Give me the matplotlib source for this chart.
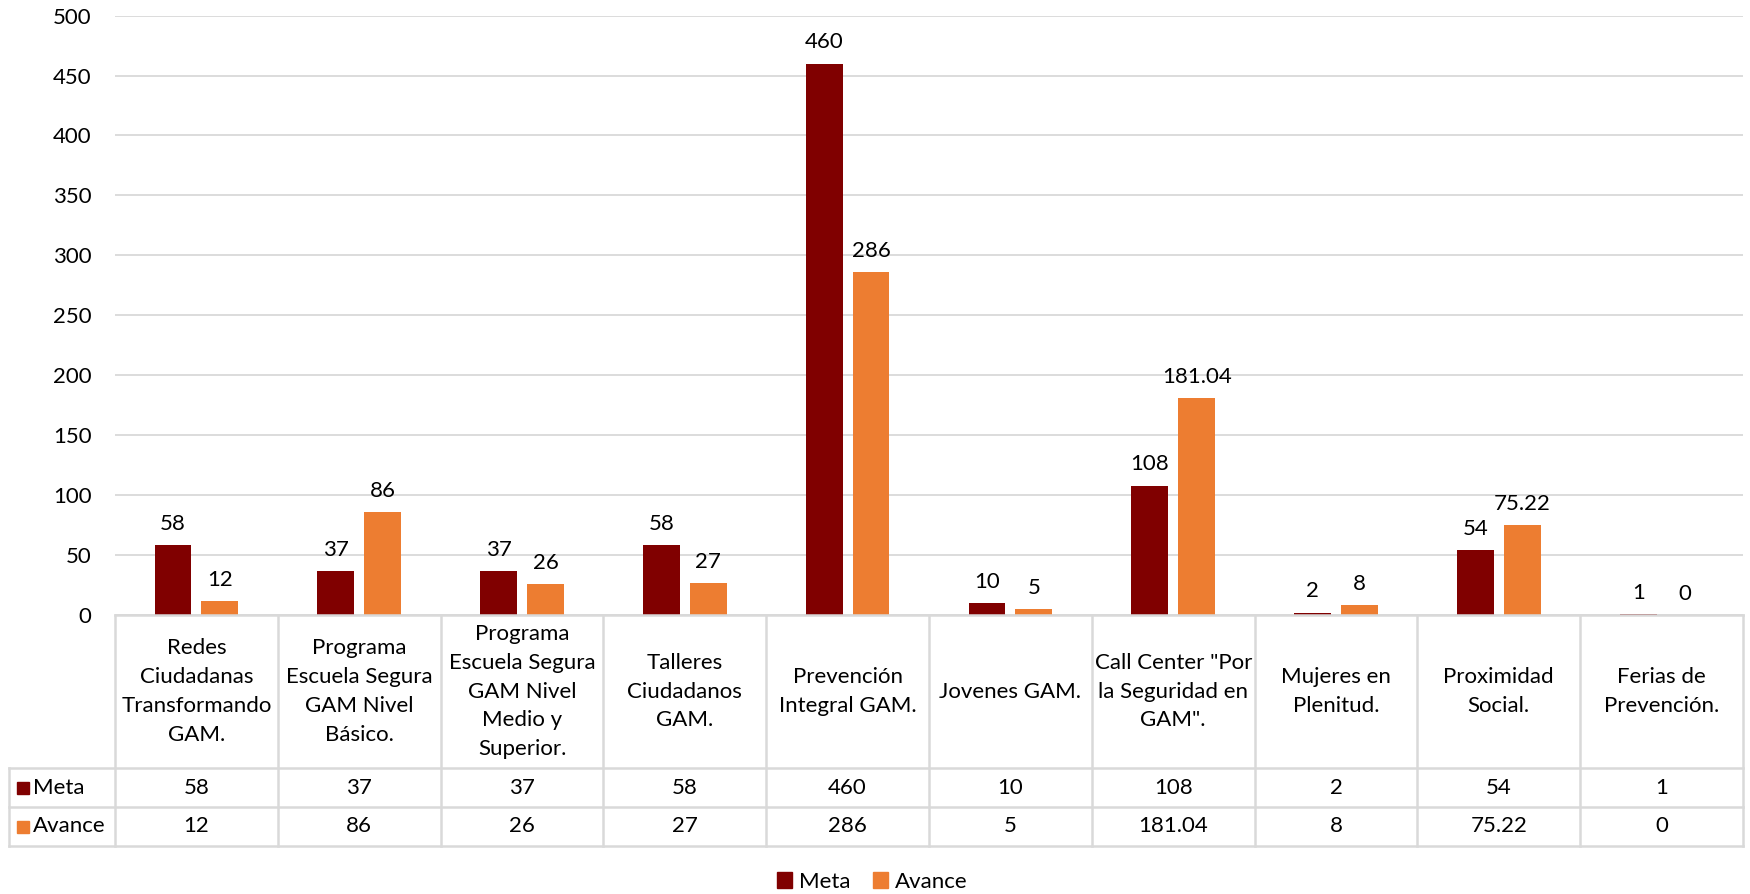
import numpy as np
import matplotlib.pyplot as plt
from matplotlib.patches import Patch
from matplotlib.lines import Line2D

plt.rcParams['font.family'] = ['Lato', 'DejaVu Sans']

categorias = ['Redes\nCiudadanas\nTransformando\nGAM.',
              'Programa\nEscuela Segura\nGAM Nivel\nBásico.',
              'Programa\nEscuela Segura\nGAM Nivel\nMedio y\nSuperior.',
              'Talleres\nCiudadanos\nGAM.',
              'Prevención\nIntegral GAM.',
              'Jovenes GAM.',
              'Call Center "Por\nla Seguridad en\nGAM".',
              'Mujeres en\nPlenitud.',
              'Proximidad\nSocial.',
              'Ferias de\nPrevención.']
meta = [58, 37, 37, 58, 460, 10, 108, 2, 54, 1]
avance = [12, 86, 26, 27, 286, 5, 181.04, 8, 75.22, 0]
series = ['Meta', 'Avance']
colores = ['#800000', '#ED7D31']

W, H = 1750, 894
fs = 16
fig = plt.figure(figsize=(W / 100, H / 100), dpi=100)

# pixel helpers (figure coords)
def fx(px): return px / W
def fy(py): return 1 - py / H

x0, x1 = 115, 1743      # plot / table columns
ytop, ybase = 15.6, 615
ax = fig.add_axes([fx(x0), fy(ybase), fx(x1) - fx(x0), fy(ytop) - fy(ybase)])

x = np.arange(len(categorias))
bw = 0.226
off = 0.144
b1 = ax.bar(x - off, meta, bw, color=colores[0], zorder=3)
b2 = ax.bar(x + off, avance, bw, color=colores[1], zorder=3)

for barras, vals in [(b1, meta), (b2, avance)]:
    for b, v in zip(barras, vals):
        ax.annotate(f'{v:g}', (b.get_x() + b.get_width() / 2, b.get_height()),
                    xytext=(0, 8), textcoords='offset points', ha='center', va='bottom',
                    fontsize=fs, color='#000000')

ax.set_xlim(-0.5, len(categorias) - 0.5)
ax.set_ylim(0, 500)
ax.set_yticks(np.arange(0, 501, 50))
ax.set_xticks([])
ax.tick_params(axis='y', length=0, labelsize=fs, pad=17)
ax.grid(axis='y', color='#D9D9D9', lw=1.3, zorder=0)
for s in ax.spines.values():
    s.set_visible(False)

# data table under the chart
gris = '#D9D9D9'
lw = 1.8
xl = 9
y_row1, y_row2, y_bot = 768, 807, 846

def hline(y, xa, xb):
    fig.add_artist(Line2D([fx(xa), fx(xb)], [fy(y), fy(y)], color=gris, lw=lw))

def vline(x_, ya, yb):
    fig.add_artist(Line2D([fx(x_), fx(x_)], [fy(ya), fy(yb)], color=gris, lw=lw))

hline(ybase, x0, x1)
hline(y_row1, xl, x1)
hline(y_row2, xl, x1)
hline(y_bot, xl, x1)
colw = (x1 - x0) / len(categorias)
for i in range(len(categorias) + 1):
    vline(x0 + i * colw, ybase, y_bot)
vline(xl, y_row1, y_bot)

for i, cat in enumerate(categorias):
    cx = fx(x0 + (i + 0.5) * colw)
    fig.text(cx, fy((ybase + y_row1) / 2), cat, ha='center', va='center',
             fontsize=fs, linespacing=1.55)
    fig.text(cx, fy((y_row1 + y_row2) / 2), f'{meta[i]:g}', ha='center', va='center', fontsize=fs)
    fig.text(cx, fy((y_row2 + y_bot) / 2), f'{avance[i]:g}', ha='center', va='center', fontsize=fs)

for (ya, yb), nombre, c in zip([(y_row1, y_row2), (y_row2, y_bot)], series, colores):
    ym = (ya + yb) / 2
    fig.add_artist(plt.Rectangle((fx(17), fy(ym + 6)), fx(12), fy(ym - 6) - fy(ym + 6), color=c))
    fig.text(fx(33), fy(ym), nombre, ha='left', va='center', fontsize=fs)

handles = [Patch(color=c, label=n) for c, n in zip(colores, series)]
fig.legend(handles=handles, loc='center', bbox_to_anchor=(fx(872), fy(882)), ncol=2,
           frameon=False, fontsize=fs, handlelength=0.7, handleheight=0.7,
           handletextpad=0.3, columnspacing=1.0)

fig.savefig('out.png', dpi=100)
